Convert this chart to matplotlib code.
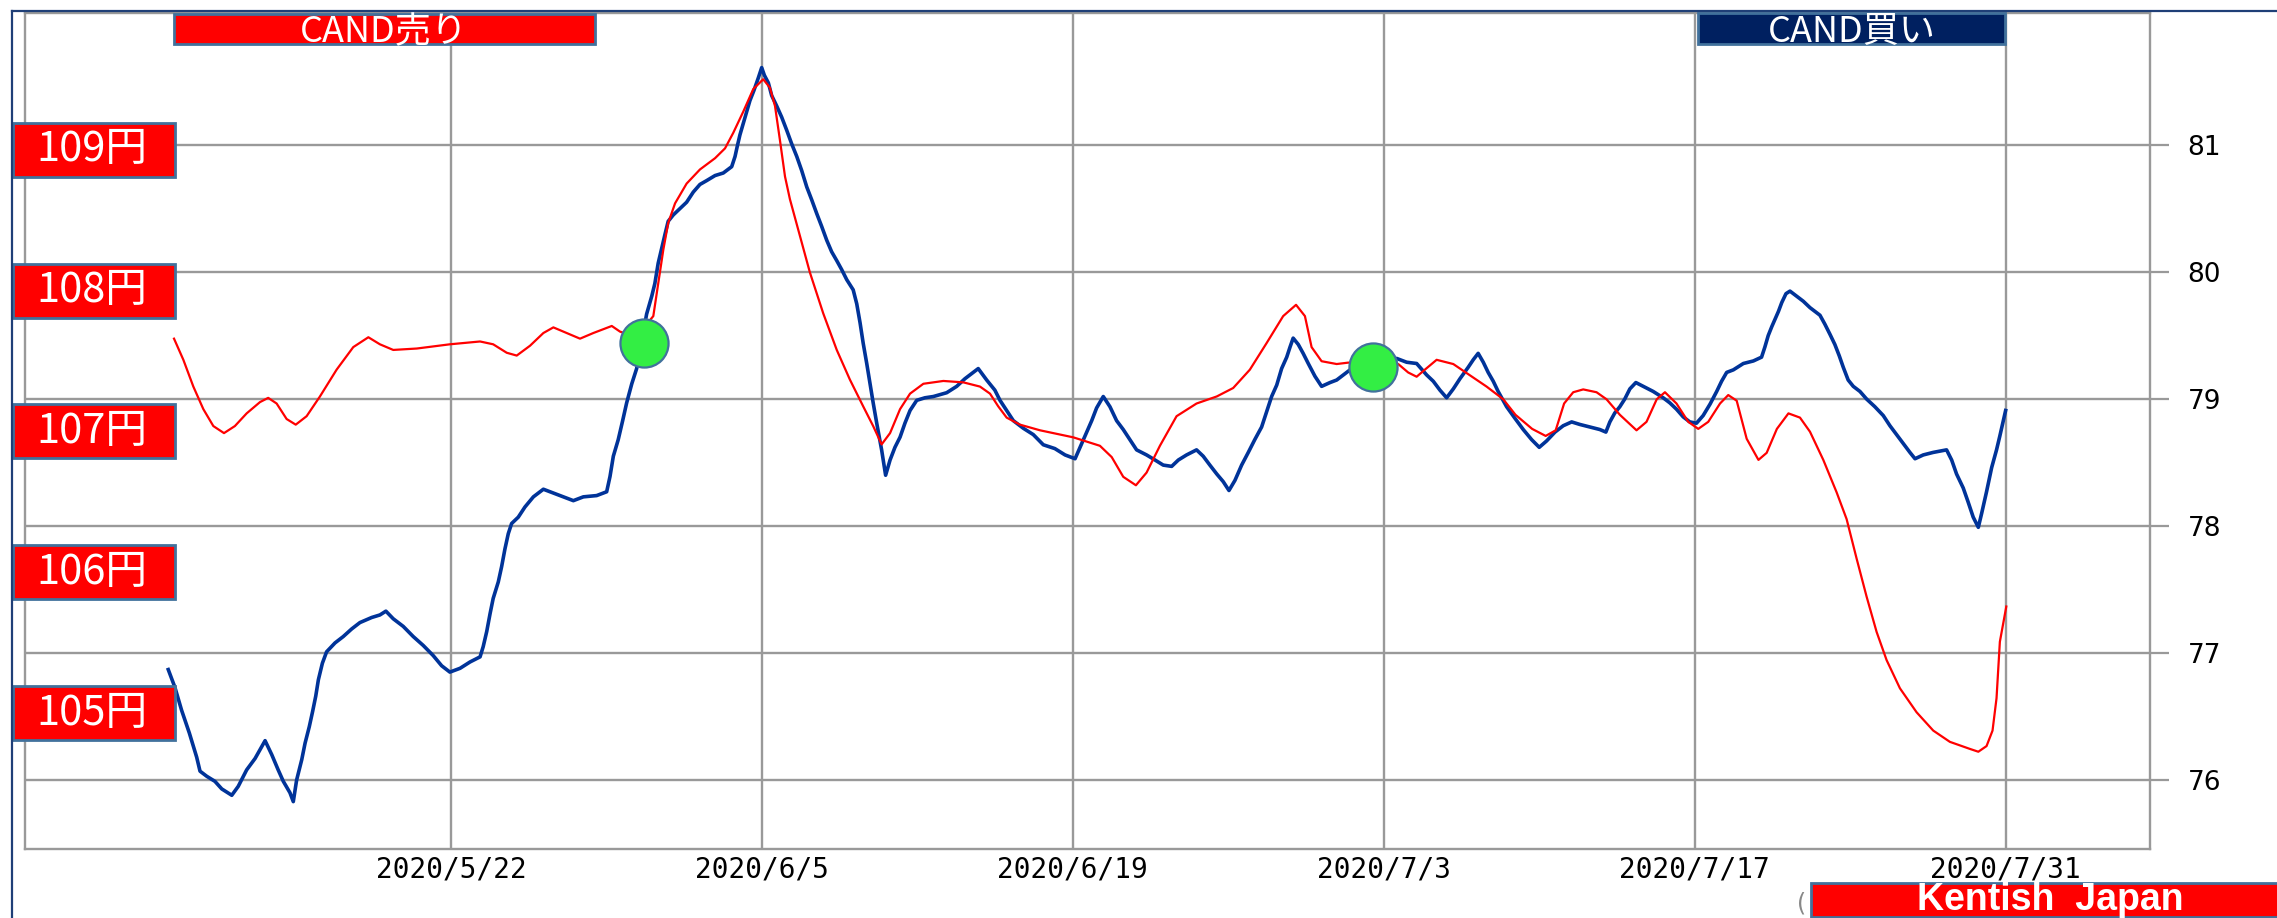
#!/usr/bin/env python3
"""CAD/JPY vs yen overlay chart with CAND signals."""
import matplotlib
matplotlib.use("Agg")
import matplotlib.pyplot as plt
from matplotlib.patches import Rectangle
from matplotlib.lines import Line2D
from matplotlib.transforms import blended_transform_factory

W, H = 2277, 918

# x = days after 2020/5/22
TICK_DAYS = [0, 14, 28, 42, 56, 70]
TICK_LABELS = ["2020/5/22", "2020/6/5", "2020/6/19", "2020/7/3", "2020/7/17", "2020/7/31"]
RATE_TICKS = [76, 77, 78, 79, 80, 81]
YEN_LEVELS = [109, 108, 107, 106, 105]

# blue series (right axis), (day, rate)
BLUE = [
    (-12.73, 76.87), (-12.43, 76.73), (-12.13, 76.55), (-11.78, 76.37), (-11.45, 76.18),
    (-11.30, 76.07), (-11.00, 76.03), (-10.63, 75.99), (-10.32, 75.93), (-9.87, 75.88),
    (-9.58, 75.95), (-9.20, 76.08), (-8.82, 76.17), (-8.37, 76.31), (-8.07, 76.20),
    (-7.78, 76.08), (-7.55, 75.99), (-7.25, 75.90), (-7.10, 75.83), (-6.95, 76.00),
    (-6.72, 76.16), (-6.57, 76.29), (-6.38, 76.42), (-6.23, 76.54), (-6.09, 76.66),
    (-5.97, 76.79), (-5.79, 76.92), (-5.60, 77.01), (-5.22, 77.08), (-4.85, 77.13),
    (-4.47, 77.19), (-4.10, 77.24), (-3.57, 77.28), (-3.20, 77.30), (-2.93, 77.33),
    (-2.60, 77.27), (-2.15, 77.21), (-1.70, 77.13), (-1.25, 77.06), (-0.80, 76.98),
    (-0.42, 76.90), (-0.05, 76.85), (0.41, 76.88), (0.86, 76.93), (1.31, 76.97),
    (1.45, 77.05), (1.61, 77.17), (1.76, 77.31), (1.90, 77.43), (2.13, 77.56),
    (2.28, 77.68), (2.43, 77.82), (2.58, 77.94), (2.73, 78.02), (3.03, 78.07),
    (3.33, 78.15), (3.71, 78.23), (4.16, 78.29), (4.61, 78.26), (5.06, 78.23),
    (5.51, 78.20), (5.96, 78.23), (6.56, 78.24), (7.01, 78.27), (7.16, 78.39),
    (7.31, 78.55), (7.53, 78.68), (7.73, 78.83), (7.91, 78.97), (8.14, 79.12),
    (8.36, 79.24), (8.81, 79.67), (9.04, 79.81), (9.18, 79.91), (9.33, 80.07),
    (9.49, 80.19), (9.64, 80.30), (9.78, 80.40), (10.01, 80.45), (10.31, 80.50),
    (10.61, 80.55), (10.91, 80.63), (11.21, 80.69), (11.51, 80.72), (11.89, 80.76),
    (12.26, 80.78), (12.64, 80.83), (12.79, 80.91), (12.89, 80.99), (13.01, 81.08),
    (13.16, 81.17), (13.31, 81.26), (13.46, 81.35), (13.64, 81.43), (13.84, 81.53),
    (13.99, 81.61), (14.11, 81.55), (14.29, 81.49), (14.44, 81.39), (14.66, 81.31),
    (14.89, 81.22), (15.11, 81.12), (15.34, 81.01), (15.57, 80.91), (15.79, 80.80),
    (16.02, 80.67), (16.24, 80.57), (16.47, 80.46), (16.69, 80.36), (16.92, 80.25),
    (17.14, 80.16), (17.37, 80.09), (17.59, 80.02), (17.82, 79.94), (18.11, 79.86),
    (18.27, 79.75), (18.42, 79.60), (18.56, 79.44), (18.72, 79.28), (18.87, 79.12),
    (19.01, 78.97), (19.17, 78.81), (19.39, 78.60), (19.57, 78.40), (19.77, 78.52),
    (19.99, 78.62), (20.22, 78.70), (20.44, 78.81), (20.67, 78.91), (20.97, 78.99),
    (21.34, 79.01), (21.72, 79.02), (22.32, 79.05), (22.77, 79.10), (23.14, 79.16),
    (23.52, 79.21), (23.74, 79.24), (24.12, 79.15), (24.49, 79.07), (24.72, 78.99),
    (25.02, 78.91), (25.32, 78.83), (25.77, 78.77), (26.22, 78.72), (26.67, 78.64),
    (27.19, 78.61), (27.65, 78.56), (28.10, 78.53), (28.40, 78.65), (28.62, 78.74),
    (28.85, 78.83), (29.07, 78.93), (29.37, 79.02), (29.67, 78.94), (29.97, 78.83),
    (30.27, 78.76), (30.57, 78.68), (30.87, 78.60), (31.32, 78.56), (31.70, 78.52),
    (32.07, 78.48), (32.45, 78.47), (32.75, 78.52), (33.12, 78.56), (33.57, 78.60),
    (33.87, 78.55), (34.17, 78.48), (34.48, 78.41), (34.77, 78.35), (35.03, 78.28),
    (35.30, 78.36), (35.60, 78.48), (35.90, 78.58), (36.19, 78.68), (36.50, 78.78),
    (36.80, 78.94), (36.95, 79.02), (37.18, 79.11), (37.40, 79.24), (37.63, 79.33),
    (37.78, 79.41), (37.92, 79.48), (38.15, 79.43), (38.37, 79.36), (38.60, 79.28),
    (38.90, 79.18), (39.20, 79.10), (39.58, 79.13), (39.88, 79.15), (40.18, 79.19),
    (40.48, 79.23), (42.58, 79.32), (43.03, 79.29), (43.48, 79.28), (43.93, 79.19),
    (44.23, 79.14), (44.53, 79.07), (44.83, 79.01), (45.13, 79.08), (45.43, 79.16),
    (45.80, 79.25), (46.03, 79.31), (46.25, 79.36), (46.48, 79.29), (46.70, 79.21),
    (46.93, 79.14), (47.15, 79.06), (47.53, 78.94), (47.90, 78.85), (48.28, 78.76),
    (48.66, 78.68), (49.00, 78.62), (49.33, 78.67), (49.71, 78.74), (50.08, 78.79),
    (50.46, 78.82), (50.83, 78.80), (51.28, 78.78), (51.73, 78.76), (52.00, 78.74),
    (52.18, 78.82), (52.40, 78.89), (52.63, 78.94), (52.85, 79.00), (53.08, 79.08),
    (53.35, 79.13), (53.68, 79.10), (54.13, 79.06), (54.58, 79.01), (54.88, 78.97),
    (55.18, 78.92), (55.48, 78.86), (55.78, 78.82), (56.08, 78.81), (56.38, 78.87),
    (56.69, 78.96), (56.99, 79.06), (57.21, 79.14), (57.44, 79.21), (57.74, 79.23),
    (58.19, 79.28), (58.64, 79.30), (59.01, 79.33), (59.16, 79.41), (59.31, 79.50),
    (59.47, 79.57), (59.62, 79.63), (59.77, 79.69), (59.92, 79.76), (60.11, 79.83),
    (60.29, 79.85), (60.59, 79.81), (60.89, 79.77), (61.19, 79.72), (61.64, 79.66),
    (61.86, 79.59), (62.09, 79.51), (62.31, 79.43), (62.51, 79.34), (62.69, 79.25),
    (62.91, 79.15), (63.14, 79.10), (63.44, 79.06), (63.74, 79.00), (64.11, 78.94),
    (64.49, 78.87), (64.79, 78.79), (65.09, 78.72), (65.39, 78.65), (65.69, 78.58),
    (65.92, 78.53), (66.29, 78.56), (66.74, 78.58), (67.34, 78.60), (67.57, 78.52),
    (67.79, 78.41), (68.09, 78.30), (68.31, 78.19), (68.54, 78.07), (68.77, 77.99),
    (68.92, 78.10), (69.14, 78.27), (69.37, 78.46), (69.59, 78.60), (69.74, 78.71),
    (70.00, 78.91),
]

# red series (yen axis on the left), (day, yen)
RED = [
    (-12.47, 107.66), (-12.05, 107.51), (-11.60, 107.32), (-11.15, 107.16), (-10.70, 107.04),
    (-10.22, 106.99), (-9.73, 107.04), (-9.20, 107.13), (-8.60, 107.21), (-8.23, 107.24),
    (-7.85, 107.20), (-7.40, 107.09), (-6.99, 107.05), (-6.50, 107.11), (-5.90, 107.25),
    (-5.15, 107.44), (-4.40, 107.60), (-3.72, 107.67), (-3.20, 107.62), (-2.60, 107.58),
    (-1.54, 107.59), (-0.05, 107.62), (1.31, 107.64), (1.90, 107.62), (2.51, 107.56),
    (2.96, 107.54), (3.56, 107.61), (4.16, 107.70), (4.61, 107.74), (5.21, 107.70),
    (5.81, 107.66), (6.41, 107.70), (7.24, 107.75), (7.61, 107.71), (8.33, 107.67),
    (9.11, 107.82), (9.33, 108.05), (9.56, 108.29), (9.78, 108.48), (10.09, 108.62),
    (10.61, 108.76), (11.21, 108.86), (11.89, 108.94), (12.34, 109.01), (12.71, 109.12),
    (13.16, 109.27), (13.61, 109.43), (14.06, 109.50), (14.36, 109.44), (14.59, 109.31),
    (14.81, 109.07), (15.04, 108.81), (15.26, 108.65), (15.71, 108.39), (16.16, 108.13),
    (16.76, 107.84), (17.37, 107.58), (17.96, 107.37), (18.56, 107.18), (19.01, 107.04),
    (19.39, 106.91), (19.77, 106.99), (20.22, 107.16), (20.67, 107.27), (21.27, 107.34),
    (22.17, 107.36), (23.07, 107.35), (23.82, 107.32), (24.27, 107.27), (24.64, 107.18),
    (25.02, 107.10), (25.62, 107.05), (26.52, 107.01), (28.02, 106.96), (29.22, 106.90),
    (29.75, 106.82), (30.27, 106.68), (30.84, 106.62), (31.32, 106.71), (31.92, 106.90),
    (32.67, 107.11), (33.57, 107.20), (34.48, 107.25), (35.22, 107.31), (35.97, 107.44),
    (36.73, 107.63), (37.47, 107.82), (38.05, 107.90), (38.45, 107.82), (38.75, 107.60),
    (39.20, 107.50), (39.88, 107.48), (40.40, 107.49), (42.65, 107.48), (43.10, 107.42),
    (43.48, 107.39), (43.85, 107.44), (44.38, 107.51), (45.13, 107.48), (45.88, 107.40),
    (46.63, 107.32), (47.38, 107.23), (47.93, 107.12), (48.68, 107.02), (49.29, 106.97),
    (49.74, 107.01), (50.12, 107.20), (50.53, 107.28), (50.98, 107.30), (51.58, 107.28),
    (52.03, 107.23), (52.63, 107.12), (53.38, 107.01), (53.83, 107.07), (54.29, 107.23),
    (54.66, 107.28), (55.18, 107.20), (55.71, 107.07), (56.16, 107.02), (56.61, 107.07),
    (57.14, 107.20), (57.51, 107.26), (57.89, 107.22), (58.34, 106.95), (58.87, 106.80),
    (59.24, 106.85), (59.70, 107.02), (60.22, 107.13), (60.74, 107.10), (61.19, 107.00),
    (61.79, 106.80), (62.39, 106.57), (62.84, 106.38), (63.29, 106.10), (63.74, 105.83),
    (64.19, 105.58), (64.64, 105.38), (65.24, 105.18), (65.99, 105.01), (66.74, 104.88),
    (67.49, 104.80), (68.39, 104.75), (68.77, 104.73), (69.14, 104.77), (69.41, 104.88),
    (69.59, 105.11), (69.74, 105.51), (70.03, 105.76),
]

# green signal markers, in yen-axis coordinates
SIGNAL_DAY = [8.69, 41.5]
SIGNAL_YEN = [107.63, 107.46]

GRID = "#999999"
NAVY_LINE = "#1F3F77"
BOX_EDGE = "#41719C"
JP = ["Noto Sans CJK JP", "DejaVu Sans"]


def px(x, y):
    """figure fraction from image pixels (origin top-left)"""
    return x / W, 1 - y / H


def main():
    plt.rcParams["font.family"] = ["DejaVu Sans"]
    fig = plt.figure(figsize=(W / 100, H / 100), dpi=100)
    fig.patch.set_facecolor("white")
    ax = fig.add_axes([25 / W, 1 - 849 / H, 2125 / W, 836 / H])
    ax2 = ax.twinx()

    blue_day, blue_val = zip(*BLUE)
    red_day, red_val = zip(*RED)

    # blue rate line with grid, labels on the right
    ax.plot(blue_day, blue_val, color="#003399", linewidth=2.6)
    ax.set_xticks(TICK_DAYS)
    ax.set_xticklabels(TICK_LABELS, fontsize=20, family="DejaVu Sans Mono")
    ax.set_yticks(RATE_TICKS)
    ax.set_yticklabels([str(v) for v in RATE_TICKS], fontsize=19)
    ax.yaxis.tick_right()
    ax.tick_params(axis="y", direction="out", length=14, width=1.6, color=GRID, pad=13)
    ax.tick_params(axis="x", length=0, pad=5)
    ax.grid(True, color=GRID, linewidth=1.7)
    ax.set_axisbelow(True)
    for s in ax.spines.values():
        s.set_color(GRID)
        s.set_linewidth(1.7)

    # red yen line on top
    ax2.plot(red_day, red_val, color="#FF0000", linewidth=1.6, zorder=3)
    ax2.scatter(SIGNAL_DAY, SIGNAL_YEN, s=1200, color="#33EE44", edgecolor=BOX_EDGE,
                linewidth=1.6, zorder=5)
    ax2.set_yticks([])
    for s in ax2.spines.values():
        s.set_visible(False)

    ax.set_xlim(-19.18, 76.5)
    ax.set_ylim(75.457, 82.04)
    ax2.set_ylim(104.04, 109.97)

    # yen level boxes on the left
    trans = blended_transform_factory(fig.transFigure, ax2.transData)
    for lv in YEN_LEVELS:
        fig.add_artist(Rectangle((13 / W, lv - 0.19), 162 / W, 0.383, transform=trans,
                                 facecolor="#FF0000", edgecolor=BOX_EDGE, linewidth=2, zorder=6))
        fig.text(92 / W, lv, f"{lv}円", transform=trans, color="white", fontsize=30,
                 family=JP, ha="center", va="center", zorder=7)

    # title boxes
    fig.add_artist(Rectangle(px(174, 44), 421 / W, 30 / H, transform=fig.transFigure,
                             facecolor="#FF0000", edgecolor=BOX_EDGE, linewidth=2, zorder=6))
    fig.text(*px(384, 31), "CAND売り", color="white", fontsize=26, family=JP,
             ha="center", va="center", zorder=7)
    fig.add_artist(Rectangle(px(1698, 44), 307 / W, 31 / H, transform=fig.transFigure,
                             facecolor="#002060", edgecolor=BOX_EDGE, linewidth=2, zorder=6))
    fig.text(*px(1852, 31), "CAND買い", color="white", fontsize=26, family=JP,
             ha="center", va="center", zorder=7)

    # footer
    fig.text(*px(1802, 904), "(", color="#888888", fontsize=17, ha="center", va="center", zorder=5)
    fig.add_artist(Rectangle(px(1811, 917), 480 / W, 34 / H, transform=fig.transFigure,
                             facecolor="#FF0000", edgecolor=BOX_EDGE, linewidth=2, zorder=6))
    fig.text(*px(2050, 900), "Kentish  Japan", color="white", fontsize=27,
             family="Liberation Sans", fontweight="bold", ha="center", va="center", zorder=7)

    # outer frame lines
    fig.add_artist(Line2D([12 / W, 12 / W], [0, 1 - 11 / H], transform=fig.transFigure,
                          color=NAVY_LINE, linewidth=1.6, zorder=8))
    fig.add_artist(Line2D([12 / W, 1], [1 - 11 / H, 1 - 11 / H], transform=fig.transFigure,
                          color=NAVY_LINE, linewidth=1.6, zorder=8))

    fig.savefig("out.png", dpi=100)
    plt.close(fig)


if __name__ == "__main__":
    main()
